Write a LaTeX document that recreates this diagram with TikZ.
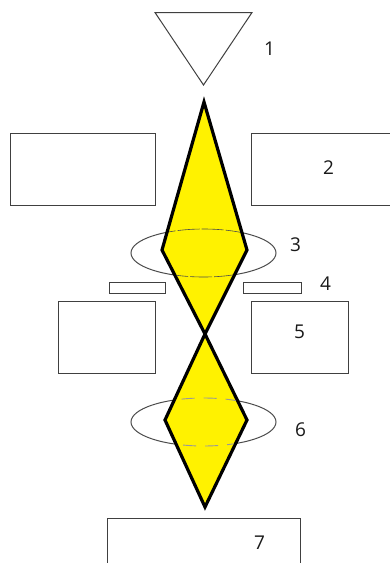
\documentclass[tikz,border=0pt]{standalone}
\usepackage{fontspec}
\setmainfont{Open Sans}
\definecolor{beam}{HTML}{FFF200}
\tikzset{
  part/.style={draw=black!75,line width=1pt,fill=white},
  lens/.style={draw=black!70,line width=1pt},
  beamshape/.style={draw=black,line width=3.2pt,fill=beam,line join=miter,miter limit=10},
  tag/.style={inner sep=0pt,font=\fontsize{19}{19}\selectfont,text=black!90}
}
\begin{document}
\begin{tikzpicture}[x=1pt,y=-1pt]
\useasboundingbox (0,0) rectangle (390,563);
\clip (0,0) rectangle (390,563);
% source
\draw[part] (155,12.5) -- (252,12.5) -- (203.5,85) -- cycle;
% boxes
\draw[part] (10.5,133) rectangle (155.5,205);
\draw[part] (251.5,133) rectangle (400,205);
\draw[part] (109.5,282) rectangle (165,293);
\draw[part] (243,282) rectangle (301,293);
\draw[part] (58.5,301) rectangle (155.5,373.5);
\draw[part] (251.5,301) rectangle (348.5,373.5);
\draw[part] (107,518) rectangle (300,570);
% lenses
\draw[lens] (203.5,253) ellipse [x radius=72.5,y radius=24];
\draw[lens] (203.5,422) ellipse [x radius=72.5,y radius=24];
% beam
\draw[beamshape] (204,102) -- (247,250) -- (205,334) -- (162,250) -- cycle;
\draw[beamshape] (205,334) -- (247,420) -- (205,507) -- (165,420) -- cycle;
% lens edges seen through the beam
\begin{scope}
\clip (204,104) -- (245,250) -- (205,332) -- (164,250) -- cycle;
\draw[black!70,line width=0.6pt,dash pattern=on 22pt off 2pt] (203.5,253) ellipse [x radius=72.5,y radius=24];
\end{scope}
\begin{scope}
\clip (205,337) -- (245,420) -- (205,504) -- (167,420) -- cycle;
\draw[black!40,line width=0.9pt,dash pattern=on 13pt off 9pt] (203.5,422) ellipse [x radius=72.5,y radius=24];
\end{scope}
% labels
\node[tag] (n1) at (269.5,48.5) {1};
\node[tag] (n2) at (328.5,168) {2};
\node[tag] (n3) at (295.5,245) {3};
\node[tag] (n4) at (325.5,284) {4};
\node[tag] (n5) at (299.5,332) {5};
\node[tag] (n6) at (300.5,430) {6};
\node[tag] (n7) at (259.5,543) {7};
\end{tikzpicture}
\end{document}
